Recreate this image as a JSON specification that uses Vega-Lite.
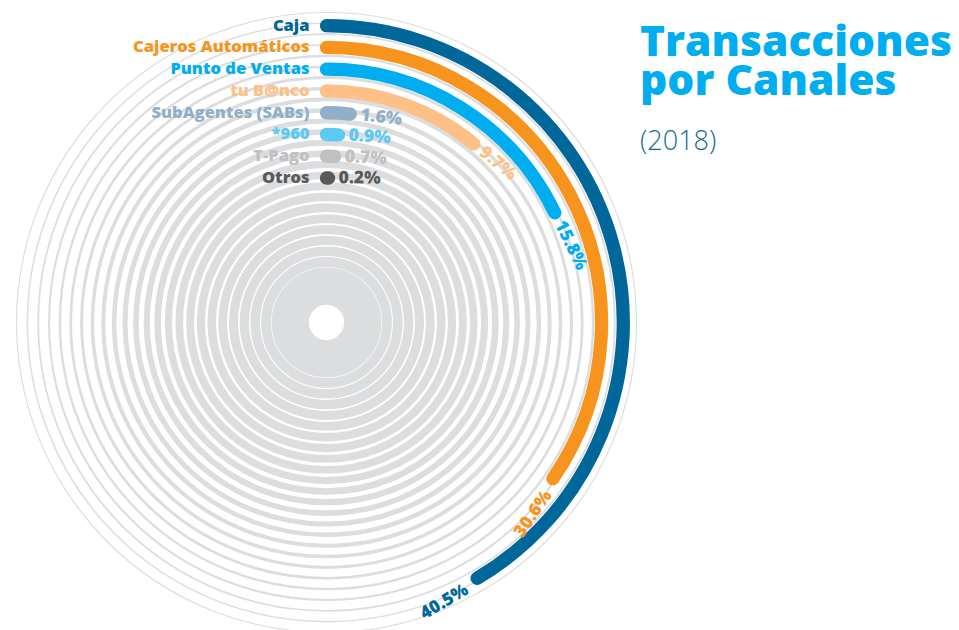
{
  "$schema": "https://vega.github.io/schema/vega-lite/v6.json",
  "width": 653,
  "height": 645,
  "padding": 0,
  "autosize": {"type": "pad"},
  "background": "white",
  "config": {"view": {"stroke": null}, "font": "Open Sans"},
  "title": {
    "text": ["Transacciones", "por Canales"],
    "subtitle": "(2018)",
    "orient": "top",
    "anchor": "start",
    "frame": "group",
    "offset": 0,
    "dx": 640,
    "dy": 155,
    "font": "Open Sans",
    "fontSize": 42.5,
    "fontWeight": 800,
    "color": "#00aeef",
    "lineHeight": 39,
    "subtitleFont": "Open Sans",
    "subtitleFontSize": 27,
    "subtitleFontWeight": 300,
    "subtitleColor": "#156b93",
    "subtitlePadding": 26
  },
  "datasets": {
    "canales": [
      {"canal": "Caja", "pct": 0.405},
      {"canal": "Cajeros Automáticos", "pct": 0.306},
      {"canal": "Punto de Ventas", "pct": 0.158},
      {"canal": "tu B@nco", "pct": 0.097},
      {"canal": "SubAgentes (SABs)", "pct": 0.016},
      {"canal": "*960", "pct": 0.009},
      {"canal": "T-Pago", "pct": 0.007},
      {"canal": "Otros", "pct": 0.002}
    ],
    "anillos": [
      {"ring": 0}, {"ring": 1}, {"ring": 2}, {"ring": 3}, {"ring": 4}, {"ring": 5},
      {"ring": 6}, {"ring": 7}, {"ring": 8}, {"ring": 9}, {"ring": 10}, {"ring": 11},
      {"ring": 12}, {"ring": 13}, {"ring": 14}, {"ring": 15}, {"ring": 16}, {"ring": 17},
      {"ring": 18}, {"ring": 19}, {"ring": 20}, {"ring": 21}, {"ring": 22}, {"ring": 23},
      {"ring": 24}, {"ring": 25}, {"ring": 26}
    ]
  },
  "resolve": {
    "scale": {
      "radius": "independent",
      "theta": "independent",
      "angle": "independent",
      "strokeWidth": "independent"
    }
  },
  "layer": [
    {
      "data": {"name": "anillos"},
      "mark": {"type": "arc", "color": "#dcdddf", "stroke": "#dcdddf"},
      "encoding": {
        "theta": {"datum": 0, "type": "quantitative", "scale": {"type": "linear", "domain": [0, 1], "range": [0, 6.2832], "zero": false, "nice": false}},
        "theta2": {"datum": 1},
        "radius": {"field": "ring", "type": "quantitative", "scale": {"type": "linear", "domain": [0, 26], "range": [310, 27.9], "zero": false, "nice": false}},
        "radius2": {"field": "ring"},
        "strokeWidth": {"field": "ring", "type": "quantitative", "scale": {"type": "linear", "domain": [0, 6, 15, 23, 24, 25, 26], "range": [1.2, 3.0, 7.6, 9.9, 10.6, 11.6, 20.5], "zero": false, "nice": false}, "legend": null}
      }
    },
    {
      "data": {"name": "canales"},
      "mark": {"type": "arc", "strokeWidth": 13.3, "strokeJoin": "round", "strokeCap": "round"},
      "encoding": {
        "theta": {"field": "pct", "type": "quantitative", "stack": null, "scale": {"type": "linear", "domain": [0, 0.306, 0.405], "range": [0, 2.1747, 2.6093], "zero": false, "nice": false}},
        "theta2": {"datum": 0},
        "radius": {"field": "canal", "type": "nominal", "scale": {"type": "point", "domain": ["Caja", "Cajeros Automáticos", "Punto de Ventas", "tu B@nco", "SubAgentes (SABs)", "*960", "T-Pago", "Otros"], "range": [296.8, 144.5], "padding": 0}},
        "radius2": {"field": "canal"},
        "color": {"field": "canal", "type": "nominal", "legend": null, "scale": {"domain": ["Caja", "Cajeros Automáticos", "Punto de Ventas", "tu B@nco", "SubAgentes (SABs)", "*960", "T-Pago", "Otros"], "range": ["#00679a", "#f7941d", "#00aeef", "#fdc086", "#92afca", "#5bc9f2", "#bfc0c2", "#58595b"]}},
        "stroke": {"field": "canal", "type": "nominal", "legend": null, "scale": {"domain": ["Caja", "Cajeros Automáticos", "Punto de Ventas", "tu B@nco", "SubAgentes (SABs)", "*960", "T-Pago", "Otros"], "range": ["#00679a", "#f7941d", "#00aeef", "#fdc086", "#92afca", "#5bc9f2", "#bfc0c2", "#58595b"]}}
      }
    },
    {
      "data": {"name": "canales"},
      "mark": {"type": "text", "align": "right", "baseline": "middle", "dx": -17, "font": "Open Sans", "fontWeight": 800, "fontSize": 16.5},
      "encoding": {
        "text": {"field": "canal"},
        "theta": {"datum": 0, "type": "quantitative", "scale": {"type": "linear", "domain": [0, 1], "range": [0, 6.2832], "zero": false, "nice": false}},
        "radius": {"field": "canal", "type": "nominal", "scale": {"type": "point", "domain": ["Caja", "Cajeros Automáticos", "Punto de Ventas", "tu B@nco", "SubAgentes (SABs)", "*960", "T-Pago", "Otros"], "range": [296.8, 144.5], "padding": 0}},
        "color": {"field": "canal", "type": "nominal", "legend": null, "scale": {"domain": ["Caja", "Cajeros Automáticos", "Punto de Ventas", "tu B@nco", "SubAgentes (SABs)", "*960", "T-Pago", "Otros"], "range": ["#00679a", "#f7941d", "#00aeef", "#fdc086", "#92afca", "#5bc9f2", "#bfc0c2", "#58595b"]}}
      }
    },
    {
      "data": {"name": "canales"},
      "transform": [{"filter": "datum.pct < 0.25"}],
      "mark": {"type": "text", "align": "left", "baseline": "middle", "dx": 10, "font": "Open Sans", "fontWeight": 800, "fontSize": 17.5},
      "encoding": {
        "text": {"field": "pct", "type": "quantitative", "format": ".1%"},
        "theta": {"field": "pct", "type": "quantitative", "stack": null, "scale": {"type": "linear", "domain": [0, 0.306, 0.405], "range": [0, 2.1747, 2.6093], "zero": false, "nice": false}},
        "radius": {"field": "canal", "type": "nominal", "scale": {"type": "point", "domain": ["Caja", "Cajeros Automáticos", "Punto de Ventas", "tu B@nco", "SubAgentes (SABs)", "*960", "T-Pago", "Otros"], "range": [296.8, 144.5], "padding": 0}},
        "angle": {"field": "pct", "type": "quantitative", "legend": null, "scale": {"type": "linear", "domain": [0, 0.306, 0.405], "range": [0, 124.6, 149.5], "zero": false, "nice": false}},
        "color": {"field": "canal", "type": "nominal", "legend": null, "scale": {"domain": ["Caja", "Cajeros Automáticos", "Punto de Ventas", "tu B@nco", "SubAgentes (SABs)", "*960", "T-Pago", "Otros"], "range": ["#00679a", "#f7941d", "#00aeef", "#fdc086", "#92afca", "#5bc9f2", "#bfc0c2", "#58595b"]}}
      }
    },
    {
      "data": {"name": "canales"},
      "transform": [{"filter": "datum.pct >= 0.25"}],
      "mark": {"type": "text", "align": "right", "baseline": "middle", "dx": -14, "dy": 4, "font": "Open Sans", "fontWeight": 800, "fontSize": 17.5},
      "encoding": {
        "text": {"field": "pct", "type": "quantitative", "format": ".1%"},
        "theta": {"field": "pct", "type": "quantitative", "stack": null, "scale": {"type": "linear", "domain": [0, 0.306, 0.405], "range": [0, 2.1747, 2.6093], "zero": false, "nice": false}},
        "radius": {"field": "canal", "type": "nominal", "scale": {"type": "point", "domain": ["Caja", "Cajeros Automáticos", "Punto de Ventas", "tu B@nco", "SubAgentes (SABs)", "*960", "T-Pago", "Otros"], "range": [296.8, 144.5], "padding": 0}},
        "angle": {"field": "pct", "type": "quantitative", "legend": null, "scale": {"type": "linear", "domain": [0, 0.306, 0.405], "range": [-180, -55.4, -30.5], "zero": false, "nice": false}},
        "color": {"field": "canal", "type": "nominal", "legend": null, "scale": {"domain": ["Caja", "Cajeros Automáticos", "Punto de Ventas", "tu B@nco", "SubAgentes (SABs)", "*960", "T-Pago", "Otros"], "range": ["#00679a", "#f7941d", "#00aeef", "#fdc086", "#92afca", "#5bc9f2", "#bfc0c2", "#58595b"]}}
      }
    }
  ]
}
